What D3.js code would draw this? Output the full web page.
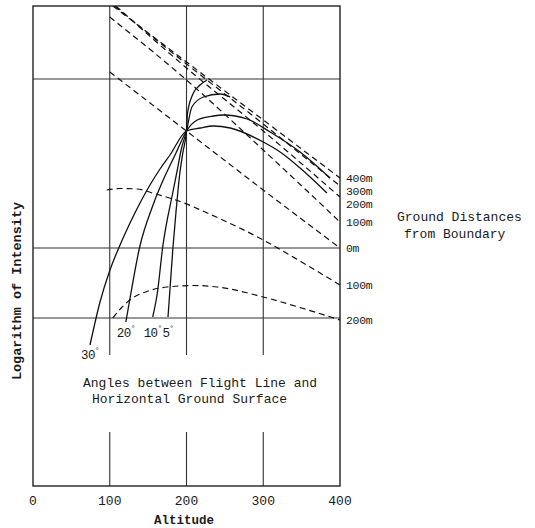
<!doctype html>
<html lang="en">
    <head>
        <meta charset="UTF-8">
        <title>Logarithm of Intensity vs Altitude</title>
        <style>
            body { margin: 0; background: #fff; }
            text { font-family: "Liberation Mono", "DejaVu Sans Mono", monospace; fill: #1a1a1a; }
        </style>
    </head>
    <body>
        <script src="https://cdn.jsdelivr.net/npm/d3@7"></script>
        <script>
            // altitude axis
            var altTicks = [0, 100, 200, 300, 400];
            var xGrid = [100, 200, 300];
            var yGrid = [4.07, 2.38, 1.68];

            // dashed curves: ground distance from boundary (alt, log intensity)
            var distLabels = ["400m", "300m", "200m", "100m", "0m", "100m", "200m"];
            var dist400 = [[104, 4.80], [200, 4.24], [300, 3.66], [400, 3.08]];
            var dist300 = [[106, 4.80], [200, 4.22], [300, 3.62], [400, 3.00]];
            var dist200 = [[108, 4.80], [200, 4.18], [300, 3.55], [400, 2.89]];
            var dist100 = [[100, 4.69], [200, 4.06], [300, 3.36], [400, 2.64]];
            var dist0 = [[100, 4.14], [200, 3.55], [300, 2.96], [400, 2.38]];
            var distOut100 = [[96, 2.96], [115, 2.975], [135, 2.97], [160, 2.92], [190, 2.85],
                              [230, 2.72], [300, 2.46], [350, 2.24], [400, 2.01]];
            var distOut200 = [[104, 1.68], [115, 1.78], [130, 1.88], [150, 1.95], [175, 1.99],
                              [210, 2.005], [240, 1.99], [300, 1.89], [350, 1.78], [400, 1.66]];

            // solid curves: angle between flight line and ground
            var angleLabels = ["30", "20", "10", "5"];
            var angle30 = [[74.3, 1.41], [87.3, 1.84], [100.3, 2.16], [113.4, 2.41], [126.4, 2.63],
                           [139.4, 2.83], [152.4, 3.01], [165.5, 3.17], [178.5, 3.31],
                           [200, 3.55], [218, 3.58], [235, 3.60], [257, 3.58], [300, 3.44],
                           [322, 3.34], [348, 3.18], [383, 2.93]];
            var angle20 = [[121, 1.64], [126, 1.86], [139, 2.39], [156.4, 2.81], [172, 3.10], [186.3, 3.33],
                           [200, 3.55], [214, 3.66], [235, 3.70], [248, 3.71], [279, 3.67],
                           [309, 3.54], [348, 3.34], [387, 3.08]];
            var angle10 = [[156, 1.69], [162, 1.93], [169, 2.39], [182, 2.93], [188, 3.16], [193, 3.36],
                           [200, 3.55], [207, 3.79], [222, 3.89], [244, 3.92], [257, 3.89]];
            var angle5 = [[175.9, 1.69], [178.5, 1.97], [182.4, 2.39], [186.3, 2.74], [191.5, 3.14],
                          [195.4, 3.34], [200, 3.55], [201.3, 3.73], [209, 3.93], [217.6, 4.01],
                          [226.7, 4.06]];

            var width = 535,
                height = 528;

            var x = d3.scaleLinear().domain([0, 400]).range([33, 340]);
            var y = d3.scaleLinear().domain([0, 4.8]).range([486, 6]);

            var svg = d3.select("body").append("svg")
                .attr("width", width)
                .attr("height", height);

            svg.append("clipPath").attr("id", "plot")
                .append("rect")
                    .attr("x", x(0)).attr("y", y(4.8))
                    .attr("width", x(400) - x(0)).attr("height", y(0) - y(4.8));

            var grid = svg.append("g").attr("stroke", "#333").attr("stroke-width", 1.1);

            // vertical grid lines, broken around the annotation text
            var gapTop = 1.31, gapBottom = 0.54;
            xGrid.forEach(function(v) {
                grid.append("line")
                    .attr("x1", x(v)).attr("x2", x(v))
                    .attr("y1", y(4.8)).attr("y2", y(gapTop));
                grid.append("line")
                    .attr("x1", x(v)).attr("x2", x(v))
                    .attr("y1", y(gapBottom)).attr("y2", y(0));
            });

            grid.selectAll(".hgrid")
                .data(yGrid)
                .enter()
                .append("line")
                    .attr("x1", x(0)).attr("x2", x(400))
                    .attr("y1", function(d) { return y(d); })
                    .attr("y2", function(d) { return y(d); });

            // frame
            svg.append("rect")
                .attr("x", x(0)).attr("y", y(4.8))
                .attr("width", x(400) - x(0)).attr("height", y(0) - y(4.8))
                .attr("fill", "none")
                .attr("stroke", "#222")
                .attr("stroke-width", 1.4);

            var line = d3.line()
                .x(function(d) { return x(d[0]); })
                .y(function(d) { return y(d[1]); })
                .curve(d3.curveMonotoneX);

            var curves = svg.append("g").attr("clip-path", "url(#plot)");

            var dashed = [dist400, dist300, dist200, dist100, dist0, distOut100, distOut200];
            curves.selectAll(".dist")
                .data(dashed)
                .enter()
                .append("path")
                    .attr("class", "dist")
                    .attr("d", line)
                    .attr("fill", "none")
                    .attr("stroke", "#111")
                    .attr("stroke-width", 1.2)
                    .attr("stroke-dasharray", "6,4");

            var solid = [angle30, angle20, angle10, angle5];
            curves.selectAll(".angle")
                .data(solid)
                .enter()
                .append("path")
                    .attr("class", "angle")
                    .attr("d", line)
                    .attr("fill", "none")
                    .attr("stroke", "#111")
                    .attr("stroke-width", 1.3);

            // distance labels at the right end, pushed apart so they don't overlap
            var lastY = -Infinity;
            dashed.forEach(function(s, i) {
                var py = y(s[s.length - 1][1]);
                if (py < lastY + 13) py = lastY + 13;
                lastY = py;
                svg.append("text")
                    .attr("x", x(400) + 6)
                    .attr("y", py + 4)
                    .attr("font-size", 11.5)
                    .attr("letter-spacing", -0.3)
                    .text(distLabels[i]);
            });

            svg.append("text")
                .attr("x", 397).attr("y", 221)
                .attr("font-size", 13)
                .text("Ground Distances");
            svg.append("text")
                .attr("x", 404).attr("y", 238)
                .attr("font-size", 13)
                .text("from Boundary");

            // angle labels below the start of each solid curve
            solid.forEach(function(s, i) {
                var px = x(s[0][0]),
                    py = Math.max(y(s[0][1]) + 14, 337);
                var t = svg.append("text")
                    .attr("x", px).attr("y", py)
                    .attr("text-anchor", "middle")
                    .attr("font-size", 12.5)
                    .attr("letter-spacing", -0.6);
                t.append("tspan").text(angleLabels[i]);
                t.append("tspan")
                    .attr("font-size", 8)
                    .attr("dy", -6)
                    .text("°");
            });

            svg.append("text")
                .attr("x", 83).attr("y", 387)
                .attr("font-size", 13)
                .text("Angles between Flight Line and");
            svg.append("text")
                .attr("x", 92).attr("y", 403)
                .attr("font-size", 13)
                .text("Horizontal Ground Surface");

            // x tick labels
            svg.selectAll(".tick")
                .data(altTicks)
                .enter()
                .append("text")
                    .attr("class", "tick")
                    .attr("x", function(d) { return x(d); })
                    .attr("y", 505)
                    .attr("text-anchor", "middle")
                    .attr("font-size", 13)
                    .text(function(d) { return d; });

            svg.append("text")
                .attr("x", 184).attr("y", 524)
                .attr("text-anchor", "middle")
                .attr("font-size", 12.5)
                .attr("font-weight", "bold")
                .text("Altitude");

            svg.append("text")
                .attr("transform", "translate(21,291)rotate(-90)")
                .attr("text-anchor", "middle")
                .attr("font-size", 13.5)
                .attr("font-weight", "bold")
                .text("Logarithm of Intensity");
        </script>
    </body>
</html>
